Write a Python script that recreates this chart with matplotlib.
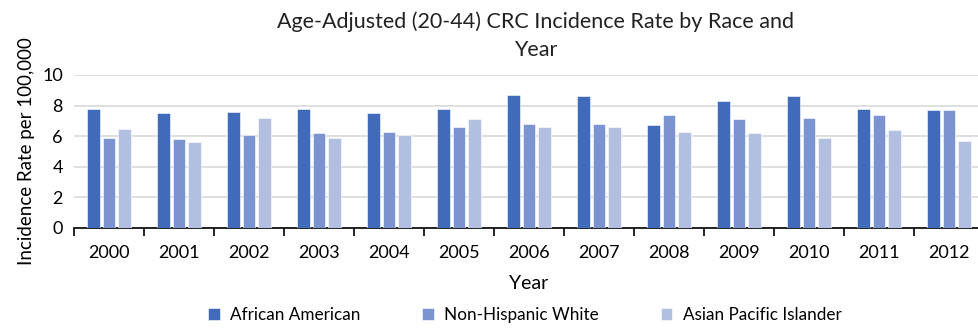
import matplotlib.pyplot as plt
import numpy as np

# incidence per 100,000 (ages 20-44), by year
years = ['2000', '2001', '2002', '2003', '2004', '2005', '2006',
         '2007', '2008', '2009', '2010', '2011', '2012']
african_american = [7.8, 7.5, 7.6, 7.8, 7.5, 7.8, 8.7, 8.6, 6.7, 8.3, 8.6, 7.8, 7.7]
non_hispanic_white = [5.9, 5.8, 6.1, 6.2, 6.3, 6.6, 6.8, 6.8, 7.4, 7.1, 7.2, 7.4, 7.7]
asian_pacific = [6.5, 5.6, 7.2, 5.9, 6.1, 7.1, 6.6, 6.6, 6.3, 6.2, 5.9, 6.4, 5.7]

series = [
    ('African American', african_american, '#3F6BBA'),
    ('Non-Hispanic White', non_hispanic_white, '#7B94D1'),
    ('Asian Pacific Islander', asian_pacific, '#B3BFE0'),
]

plt.rcParams['font.family'] = ['Lato', 'DejaVu Sans']

DPI = 100
fig = plt.figure(figsize=(979 / DPI, 328 / DPI), dpi=DPI)
ax = fig.add_axes([74 / 979, 1 - 228 / 328, 910 / 979, 153 / 328])

x = np.arange(len(years))
step = 0.223
width = 0.176
for i, (name, vals, col) in enumerate(series):
    ax.bar(x + (i - 1) * step, vals, width, color=col, label=name,
           edgecolor='white', linewidth=0.4, zorder=3)

ax.set_xlim(-0.5, len(years) - 0.5)
ax.set_ylim(0, 10)
ax.set_yticks([0, 2, 4, 6, 8, 10])
ax.yaxis.grid(True, color='#D9D9D9', linewidth=1.2, zorder=0)
ax.tick_params(axis='y', length=0, labelsize=13, pad=8)

# category labels centred, tick marks on the boundaries
ax.set_xticks(x)
ax.set_xticklabels(years)
ax.tick_params(axis='x', which='major', length=0, labelsize=13, pad=12)
ax.set_xticks(np.arange(len(years) + 1) - 0.5, minor=True)
ax.tick_params(axis='x', which='minor', length=6, width=1.2, color='black')

for side in ['top', 'right', 'left']:
    ax.spines[side].set_visible(False)
ax.spines['bottom'].set_color('black')
ax.spines['bottom'].set_linewidth(1.2)

ax.set_xlabel('Year', fontsize=14, labelpad=10)
ax.set_ylabel('Incidence Rate per 100,000', fontsize=13.5, labelpad=5)

fig.text(0.547, 0.89, 'Age-Adjusted (20-44) CRC Incidence Rate by Race and\nYear',
         ha='center', va='center', fontsize=15.5, linespacing=1.5, color='#222222')

fig.legend(loc='center', bbox_to_anchor=(0.536, 0.04), ncol=3, frameon=False,
           fontsize=12.3, handlelength=0.7, handleheight=0.7, columnspacing=3.6,
           handletextpad=0.6)

plt.savefig('out.png', dpi=DPI)
